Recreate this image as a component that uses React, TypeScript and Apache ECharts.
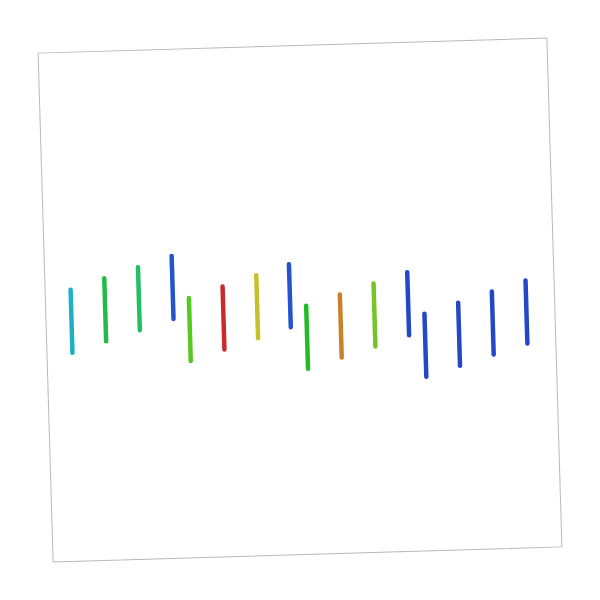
import { useEffect, useRef } from 'react'
import * as echarts from 'echarts'

// positions in the panel's own frame (origin at the centre, y up)
const xs = [-229, -195, -161, -127, -111, -77, -43, -10, 6, 40, 74, 108, 124, 158, 192, 226]
const highs = [16.9, 27.4, 37.6, 47.8, 5.3, 15.8, 26.1, 36.1, -5.9, 4.3, 14.3, 24.6, -17.5, -7.4, 2.8, 12.8]
const lows = [-46.1, -35.6, -25.4, -15.2, -57.7, -47.2, -36.9, -26.9, -68.9, -58.7, -48.7, -38.4, -80.5, -70.4, -60.2, -50.2]

const colors = [
  '#1fb0c8', '#22bb48', '#22c064', '#2255cc',
  '#55c822', '#cc2a2a', '#c8c02a', '#2255cc',
  '#22bb2a', '#c8822a', '#77c42a', '#2248c8',
  '#2248c8', '#2248c8', '#2248c8', '#2248c8',
]

const HALF = 254

export default function App() {
  const chartRef = useRef<HTMLDivElement>(null)

  useEffect(() => {
    if (!chartRef.current) return
    const chart = echarts.init(chartRef.current, null, { renderer: 'svg' })

    chart.setOption({
      animation: false,
      grid: { left: 0, right: 0, top: 0, bottom: 0 },
      xAxis: { type: 'value', min: -HALF, max: HALF, show: false },
      yAxis: { type: 'value', min: -HALF, max: HALF, show: false },
      series: [
        {
          type: 'custom',
          data: xs.map((x, i) => [x, lows[i], highs[i]]),
          renderItem: (params: any, api: any) => {
            const top = api.coord([api.value(0), api.value(2)])
            const bottom = api.coord([api.value(0), api.value(1)])
            return {
              type: 'line',
              shape: { x1: top[0], y1: top[1], x2: bottom[0], y2: bottom[1] },
              style: {
                stroke: colors[params.dataIndex],
                lineWidth: 4.5,
                lineCap: 'round',
              },
            }
          },
        },
      ],
    })

    return () => {
      chart.dispose()
    }
  }, [])

  return (
    <div style={{ position: 'fixed', left: 0, top: 0, width: 600, height: 600, background: '#fff' }}>
      <div
        style={{
          position: 'absolute',
          left: 44.5,
          top: 44.5,
          width: 510,
          height: 510,
          boxSizing: 'border-box',
          border: '1px solid #b8b8b8',
          transform: 'rotate(-1.69deg)',
        }}
      >
        <div ref={chartRef} style={{ width: 508, height: 508 }}></div>
      </div>
    </div>
  )
}
